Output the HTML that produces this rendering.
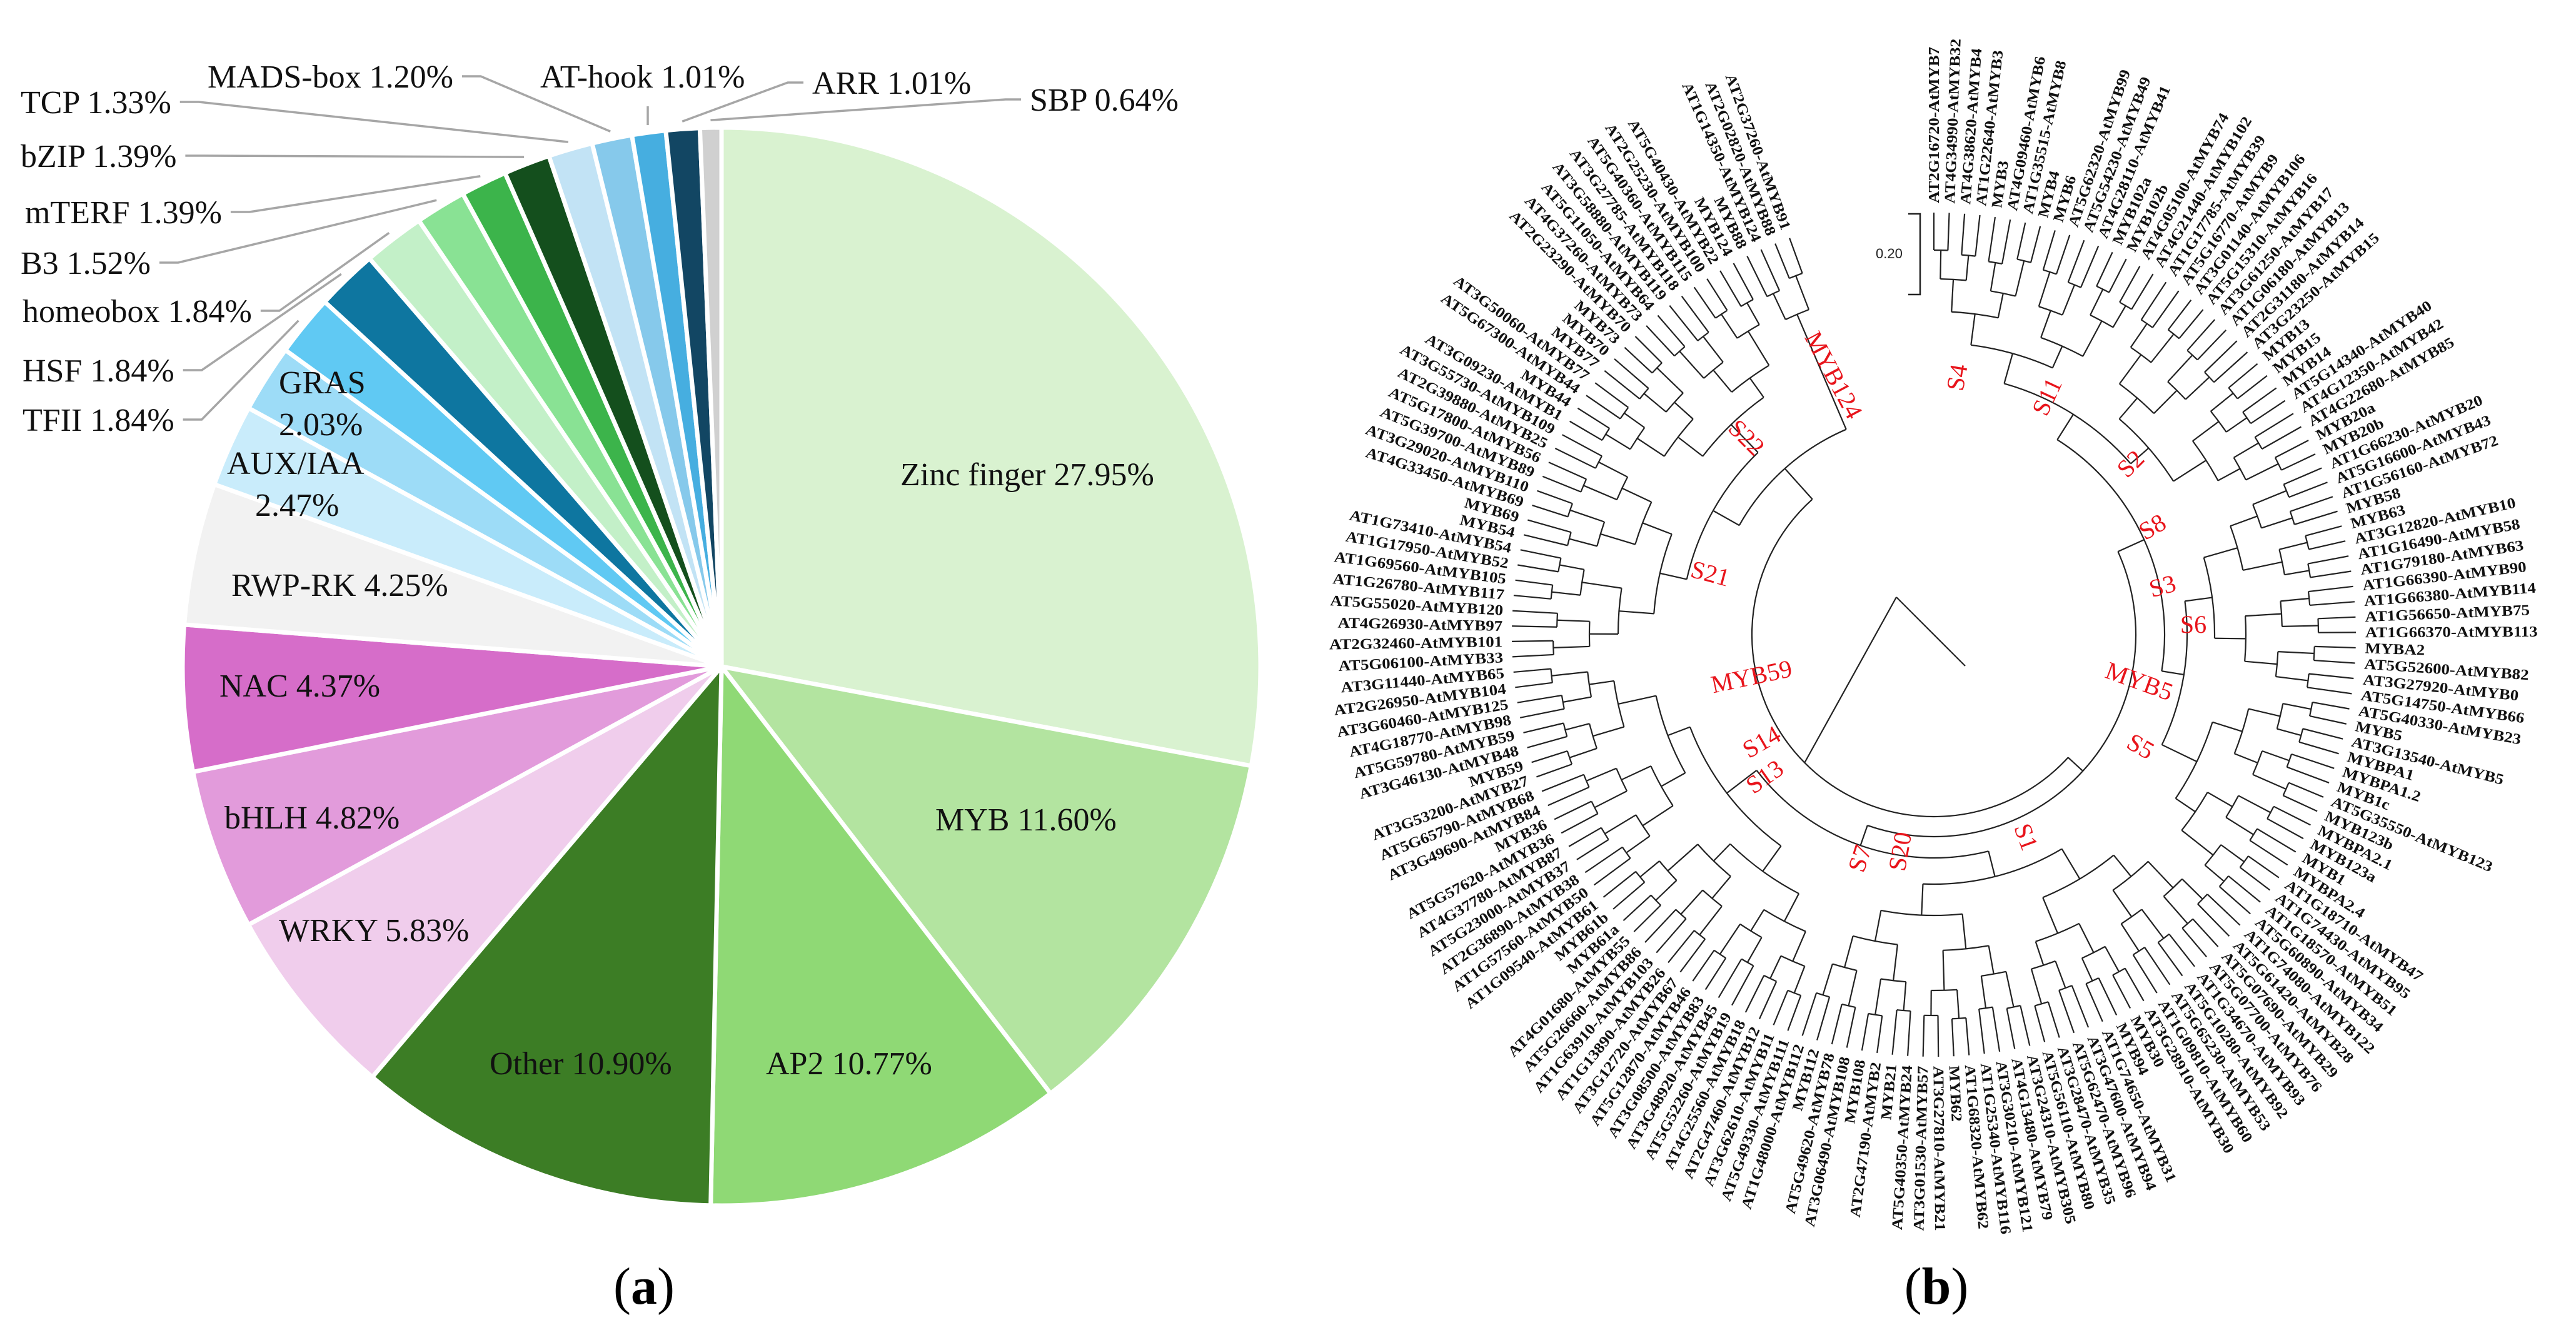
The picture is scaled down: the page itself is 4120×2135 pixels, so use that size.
<!DOCTYPE html>
<html><head><meta charset="utf-8"><style>
html,body{margin:0;padding:0;background:#fff;}
svg{display:block;}
.pl{font-family:"Liberation Serif",serif;font-size:52px;fill:#111;}
.tl{font-family:"Liberation Serif",serif;font-size:24px;font-weight:bold;fill:#111;}
.cl{font-family:"Liberation Serif",serif;font-size:40px;fill:#e8141b;}
</style></head><body>
<svg id="fig" xmlns="http://www.w3.org/2000/svg" width="4120" height="2135" viewBox="0 0 4120 2135">
<g id="pie"></g>
<g id="pieLabels"></g>
<text x="1030" y="2085" text-anchor="middle" font-family="Liberation Serif, serif" font-size="84">(<tspan font-weight="bold">a</tspan>)</text>
<g id="tree"></g>
<g>
<path d="M3052,342 H3071 V471 H3052" fill="none" stroke="#222" stroke-width="2.5"/>
<text x="3000" y="413" font-family="Liberation Sans, sans-serif" font-size="22" fill="#222">0.20</text>
</g>
<text x="3097" y="2085" text-anchor="middle" font-family="Liberation Serif, serif" font-size="84">(<tspan font-weight="bold">b</tspan>)</text>
</svg>
<script>
const categories=["Zinc finger","MYB","AP2","Other","WRKY","bHLH","NAC","RWP-RK","AUX/IAA","GRAS","TFII","HSF","homeobox","B3","mTERF","bZIP","TCP","MADS-box","AT-hook","ARR","SBP"];
const values=[27.95,11.60,10.77,10.90,5.83,4.82,4.37,4.25,2.47,2.03,1.84,1.84,1.84,1.52,1.39,1.39,1.33,1.20,1.01,1.01,0.64];
const colors=["#d9f2d0","#b3e4a0","#8fd975","#3c7d25","#f0cdec","#e29bdb","#d66dc9","#f2f2f2","#c9ecfb","#9ddcf7","#60c9f3","#0e76a0","#c3f0c8","#89e294","#3cb44b","#144f1d","#c2e3f5","#86c9eb","#46aee0","#124663","#d0d0d0"];
const NS="http://www.w3.org/2000/svg";
const cx=1154,cy=1066,R=862;
const total=values.reduce((a,b)=>a+b,0);
function ang(v){return v/total*2*Math.PI;}
function pt(a,r){return [cx+r*Math.sin(a),cy-r*Math.cos(a)];}
const pie=document.getElementById('pie');
let acc=0;const mids=[];
values.forEach((v,i)=>{
  const a0=ang(acc),a1=ang(acc+v);acc+=v;mids.push((a0+a1)/2);
  const p0=pt(a0,R),p1=pt(a1,R);
  const large=(a1-a0)>Math.PI?1:0;
  const p=document.createElementNS(NS,'path');
  p.setAttribute('d',`M${cx},${cy} L${p0[0]},${p0[1]} A${R},${R} 0 ${large} 1 ${p1[0]},${p1[1]} Z`);
  p.setAttribute('fill',colors[i]);p.setAttribute('stroke','#fff');p.setAttribute('stroke-width','7');
  
  
  pie.appendChild(p);
});
const inside=[[0,["Zinc finger 27.95%"],1440,776],[1,["MYB 11.60%"],1496,1328],[2,["AP2 10.77%"],1225,1718],[3,["Other 10.90%"],783,1718],[4,["WRKY 5.83%"],446,1505],[5,["bHLH 4.82%"],359,1325],[6,["NAC 4.37%"],351,1114],[7,["RWP-RK 4.25%"],370,953],[8,["AUX/IAA","2.47%"],363,758],[9,["GRAS","2.03%"],446,629]];
const pl=document.getElementById('pieLabels');
inside.forEach(d=>{
  d[1].forEach((s,k)=>{
    const t=document.createElementNS(NS,'text');
    t.setAttribute('class','pl');
    let x=d[2];
    if(d[1].length>1&&k==1){x=d[2]+(d[0]==8?45:0);}
    t.setAttribute('x',x);t.setAttribute('y',d[3]+k*67);
    t.textContent=s;
    
    
    pl.appendChild(t);
  });
});
const outside=[[10,36,689],[11,36,610],[12,36,515],[13,33,438],[14,40,357],[15,33,267],[16,33,181],[17,332,140],[18,864,140],[19,1299,150],[20,1647,177]];
outside.forEach(d=>{
  const i=d[0];
  const t=document.createElementNS(NS,'text');
  t.setAttribute('class','pl');t.setAttribute('x',d[1]);t.setAttribute('y',d[2]);
  t.textContent=categories[i]+" "+values[i].toFixed(2)+"%";
  
  
  pl.appendChild(t);
  const w=t.getComputedTextLength();
  const e=pt(mids[i],R+12);
  const ln=document.createElementNS(NS,'polyline');
  let pts;
  if(i==18){pts=`${e[0]},${e[1]} ${e[0]},${e[1]-30}`;}
  else if(i>=19){const sx=d[1]-14,sy=d[2]-18;pts=`${sx},${sy} ${sx-25},${sy} ${e[0]},${e[1]}`;}
  else {const sx=d[1]+w+14,sy=d[2]-18;pts=`${sx},${sy} ${sx+30},${sy} ${e[0]},${e[1]}`;}
  ln.setAttribute('points',pts);ln.setAttribute('fill','none');ln.setAttribute('stroke','#a6a6a6');ln.setAttribute('stroke-width','3.5');
  
  
  pl.appendChild(ln);
});

const leaves=["AT2G16720-AtMYB7","AT4G34990-AtMYB32","AT4G38620-AtMYB4","AT1G22640-AtMYB3","MYB3","AT4G09460-AtMYB6","AT1G35515-AtMYB8","MYB4","MYB6","AT5G62320-AtMYB99","AT5G54230-AtMYB49","AT4G28110-AtMYB41","MYB102a","MYB102b","AT4G05100-AtMYB74","AT4G21440-AtMYB102","AT1G17785-AtMYB39","AT5G16770-AtMYB9","AT3G01140-AtMYB106","AT5G15310-AtMYB16","AT3G61250-AtMYB17","AT1G06180-AtMYB13","AT2G31180-AtMYB14","AT3G23250-AtMYB15","MYB13","MYB15","MYB14","AT5G14340-AtMYB40","AT4G12350-AtMYB42","AT4G22680-AtMYB85","MYB20a","MYB20b","AT1G66230-AtMYB20","AT5G16600-AtMYB43","AT1G56160-AtMYB72","MYB58","MYB63","AT3G12820-AtMYB10","AT1G16490-AtMYB58","AT1G79180-AtMYB63","AT1G66390-AtMYB90","AT1G66380-AtMYB114","AT1G56650-AtMYB75","AT1G66370-AtMYB113","MYBA2","AT5G52600-AtMYB82","AT3G27920-AtMYB0","AT5G14750-AtMYB66","AT5G40330-AtMYB23","MYB5","AT3G13540-AtMYB5","MYBPA1","MYBPA1.2","MYB1c","AT5G35550-AtMYB123","MYB123b","MYBPA2.1","MYB123a","MYB1","MYBPA2.4","AT1G18710-AtMYB47","AT1G74430-AtMYB95","AT1G18570-AtMYB51","AT5G60890-AtMYB34","AT1G74080-AtMYB122","AT5G61420-AtMYB28","AT5G07690-AtMYB29","AT5G07700-AtMYB76","AT1G34670-AtMYB93","AT5G10280-AtMYB92","AT5G65230-AtMYB53","AT1G09810-AtMYB60","AT3G28910-AtMYB30","MYB30","MYB94","AT1G74650-AtMYB31","AT3G47600-AtMYB94","AT5G62470-AtMYB96","AT3G28470-AtMYB35","AT5G56110-AtMYB80","AT3G24310-AtMYB305","AT4G13480-AtMYB79","AT3G30210-AtMYB121","AT1G25340-AtMYB116","AT1G68320-AtMYB62","MYB62","AT3G27810-AtMYB21","AT3G01530-AtMYB57","AT5G40350-AtMYB24","MYB21","AT2G47190-AtMYB2","MYB108","AT3G06490-AtMYB108","AT5G49620-AtMYB78","MYB112","AT1G48000-AtMYB112","AT5G49330-AtMYB111","AT3G62610-AtMYB11","AT2G47460-AtMYB12","AT4G25560-AtMYB18","AT5G52260-AtMYB19","AT3G48920-AtMYB45","AT3G08500-AtMYB83","AT5G12870-AtMYB46","AT3G12720-AtMYB67","AT1G13890-AtMYB26","AT1G63910-AtMYB103","AT5G26660-AtMYB86","AT4G01680-AtMYB55","MYB61a","MYB61b","AT1G09540-AtMYB61","AT1G57560-AtMYB50","AT2G36890-AtMYB38","AT5G23000-AtMYB37","AT4G37780-AtMYB87","AT5G57620-AtMYB36","MYB36","AT3G49690-AtMYB84","AT5G65790-AtMYB68","AT3G53200-AtMYB27","MYB59","AT3G46130-AtMYB48","AT5G59780-AtMYB59","AT4G18770-AtMYB98","AT3G60460-AtMYB125","AT2G26950-AtMYB104","AT3G11440-AtMYB65","AT5G06100-AtMYB33","AT2G32460-AtMYB101","AT4G26930-AtMYB97","AT5G55020-AtMYB120","AT1G26780-AtMYB117","AT1G69560-AtMYB105","AT1G17950-AtMYB52","AT1G73410-AtMYB54","MYB54","MYB69","AT4G33450-AtMYB69","AT3G29020-AtMYB110","AT5G39700-AtMYB89","AT5G17800-AtMYB56","AT2G39880-AtMYB25","AT3G55730-AtMYB109","AT3G09230-AtMYB1","MYB44","AT5G67300-AtMYB44","AT3G50060-AtMYB77","MYB77","MYB70","MYB73","AT2G23290-AtMYB70","AT4G37260-AtMYB73","AT5G11050-AtMYB64","AT3G58880-AtMYB119","AT3G27785-AtMYB118","AT5G40360-AtMYB115","AT2G25230-AtMYB100","AT5G40430-AtMYB22","MYB124","MYB88","AT1G14350-AtMYB124","AT2G02820-AtMYB88","AT2G37260-AtMYB91"];
const clades=[["MYB124",2921,606,62],["S22",2784,709,45],["S21",2732,930,15],["MYB59",2804,1095,-12],["S14",2824,1198,-30],["S13",2830,1253,-35],["S7",2987,1377,-72],["S20",3052,1364,-80],["S1",3228,1343,70],["S5",3417,1205,30],["MYB5",3417,1102,20],["S6",3508,1012,0],["S3",3462,950,-15],["S8",3449,854,-30],["S2",3417,751,-45],["S11",3286,640,-65],["S4",3143,606,-80]];
const tx=3093,ty=1015,tipR=675,labR=690;
const a0=0,a1=340;
const tree=document.getElementById('tree');
function tp(th,r){const a=th*Math.PI/180;return [tx+r*Math.sin(a),ty-r*Math.cos(a)];}
function line(p,q){const l=document.createElementNS(NS,'line');l.setAttribute('x1',p[0]);l.setAttribute('y1',p[1]);l.setAttribute('x2',q[0]);l.setAttribute('y2',q[1]);l.setAttribute('stroke','#222');l.setAttribute('stroke-width','2.2');


tree.appendChild(l);}
function arc(t0,t1,r){const p=tp(t0,r),q=tp(t1,r);const a=document.createElementNS(NS,'path');a.setAttribute('d',`M${p[0]},${p[1]} A${r},${r} 0 ${(t1-t0)>180?1:0} 1 ${q[0]},${q[1]}`);a.setAttribute('fill','none');a.setAttribute('stroke','#222');a.setAttribute('stroke-width','2.2');


tree.appendChild(a);}
const n=leaves.length;
let nodes=leaves.map((s,i)=>{const th=a0+(a1-a0)*i/(n-1);return {th:th,r:tipR};});
leaves.forEach((s,i)=>{
  const th=nodes[i].th;const p=tp(th,labR);
  const t=document.createElementNS(NS,'text');
  t.setAttribute('class','tl');
  const right=th>=0&&th<180;
  const rot=right?th-90:th+90;
  t.setAttribute('transform',`translate(${p[0]},${p[1]}) rotate(${rot}) scale(1.12,1)`);
  t.setAttribute('text-anchor',right?'start':'end');
  t.setAttribute('dy','8');
  t.textContent=s;
  
  
  tree.appendChild(t);
});
let level=0;
while(nodes.length>1){
  const next=[];
  const step=[60,40,40,38,38,36,34,32,30][level]||30;
  for(let i=0;i<nodes.length;i+=2){
    if(i+1>=nodes.length){next.push(nodes[i]);continue;}
    const A=nodes[i],B=nodes[i+1];
    const r=Math.min(A.r,B.r)-step-((i/2)%3)*6;
    line(tp(A.th,r),tp(A.th,A.r));line(tp(B.th,r),tp(B.th,B.r));
    arc(A.th,B.th,r);
    next.push({th:(A.th+B.th)/2,r:r});
  }
  nodes=next;level++;
}
line(tp(nodes[0].th,nodes[0].r),[tx-60,ty-60]);
line([tx-60,ty-60],[tx+50,ty+50]);
clades.forEach(c=>{
  const t=document.createElementNS(NS,'text');
  t.setAttribute('class','cl');
  t.setAttribute('transform',`translate(${c[1]},${c[2]}) rotate(${c[3]})`);
  t.setAttribute('text-anchor','middle');
  t.textContent=c[0];
  
  
  tree.appendChild(t);
});
</script>
</body></html>
